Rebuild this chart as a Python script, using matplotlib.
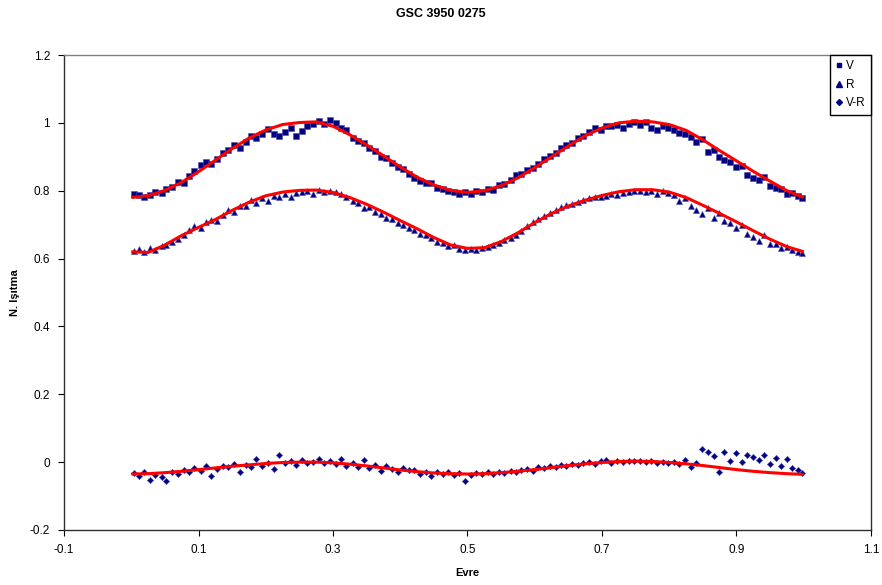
import matplotlib
matplotlib.use("Agg")
import matplotlib.pyplot as plt
import matplotlib.lines as mlines

plt.rcParams['font.family'] = ['Liberation Sans', 'DejaVu Sans']

# ---------------- data ----------------
phase = [0.004, 0.012, 0.019, 0.028, 0.036, 0.045, 0.052, 0.061, 0.069, 0.078,
         0.086, 0.094, 0.103, 0.111, 0.119, 0.128, 0.136, 0.144, 0.153, 0.161,
         0.170, 0.178, 0.186, 0.195, 0.203, 0.212, 0.220, 0.228, 0.237, 0.245,
         0.254, 0.262, 0.270, 0.279, 0.287, 0.295, 0.304, 0.312, 0.320, 0.329,
         0.337, 0.346, 0.354, 0.362, 0.371, 0.379, 0.387, 0.396, 0.404, 0.413,
         0.421, 0.429, 0.438, 0.446, 0.455, 0.463, 0.471, 0.480, 0.488, 0.497,
         0.505, 0.513, 0.522, 0.530, 0.538, 0.547, 0.555, 0.564, 0.572, 0.580,
         0.589, 0.597, 0.605, 0.614, 0.622, 0.631, 0.639, 0.647, 0.656, 0.664,
         0.672, 0.681, 0.689, 0.698, 0.706, 0.714, 0.723, 0.731, 0.740, 0.748,
         0.756, 0.765, 0.773, 0.782, 0.790, 0.798, 0.807, 0.815, 0.824, 0.832,
         0.840, 0.849, 0.857, 0.866, 0.874, 0.882, 0.891, 0.899, 0.908, 0.916,
         0.925, 0.933, 0.941, 0.950, 0.958, 0.966, 0.975, 0.983, 0.991, 0.998]

v_obs = [0.789, 0.787, 0.780, 0.786, 0.795, 0.793, 0.805, 0.812, 0.825, 0.822,
         0.842, 0.858, 0.875, 0.884, 0.880, 0.893, 0.912, 0.921, 0.935, 0.925,
         0.945, 0.962, 0.955, 0.967, 0.983, 0.968, 0.960, 0.972, 0.985, 0.962,
         0.975, 0.990, 0.998, 1.005, 0.996, 1.008, 0.999, 0.985, 0.978, 0.955,
         0.948, 0.940, 0.925, 0.918, 0.900, 0.895, 0.882, 0.870, 0.865, 0.848,
         0.838, 0.830, 0.822, 0.823, 0.808, 0.805, 0.798, 0.795, 0.790, 0.796,
         0.790, 0.800, 0.797, 0.805, 0.803, 0.818, 0.820, 0.832, 0.845, 0.850,
         0.862, 0.868, 0.880, 0.892, 0.902, 0.910, 0.925, 0.935, 0.940, 0.955,
         0.962, 0.972, 0.985, 0.980, 0.990, 0.992, 0.995, 0.985, 0.998, 1.003,
         0.995, 1.002, 0.985, 0.980, 0.992, 0.985, 0.978, 0.970, 0.968, 0.958,
         0.945, 0.952, 0.915, 0.920, 0.900, 0.890, 0.885, 0.870, 0.872, 0.845,
         0.838, 0.832, 0.840, 0.815, 0.808, 0.805, 0.790, 0.792, 0.785, 0.778]

r_obs = [0.622, 0.628, 0.618, 0.630, 0.624, 0.636, 0.640, 0.650, 0.657, 0.668,
         0.685, 0.695, 0.690, 0.708, 0.715, 0.712, 0.728, 0.742, 0.738, 0.755,
         0.755, 0.772, 0.765, 0.778, 0.770, 0.785, 0.780, 0.790, 0.782, 0.792,
         0.795, 0.800, 0.790, 0.802, 0.796, 0.799, 0.795, 0.790, 0.780, 0.770,
         0.765, 0.750, 0.752, 0.738, 0.730, 0.720, 0.718, 0.705, 0.698, 0.690,
         0.685, 0.672, 0.668, 0.660, 0.650, 0.645, 0.638, 0.640, 0.627, 0.625,
         0.628, 0.626, 0.630, 0.634, 0.640, 0.645, 0.655, 0.662, 0.670, 0.682,
         0.695, 0.708, 0.718, 0.725, 0.735, 0.742, 0.752, 0.758, 0.762, 0.768,
         0.772, 0.778, 0.780, 0.782, 0.785, 0.790, 0.788, 0.792, 0.795, 0.798,
         0.800, 0.795, 0.798, 0.790, 0.798, 0.794, 0.788, 0.770, 0.778, 0.755,
         0.742, 0.730, 0.748, 0.720, 0.735, 0.712, 0.705, 0.690, 0.700, 0.672,
         0.665, 0.652, 0.668, 0.643, 0.642, 0.630, 0.633, 0.625, 0.620, 0.615]

vr_obs = [-0.033, -0.040, -0.030, -0.052, -0.038, -0.045, -0.055, -0.028, -0.035, -0.022,
          -0.030, -0.018, -0.025, -0.012, -0.040, -0.020, -0.010, -0.015, -0.005, -0.028,
          -0.008, -0.015, 0.008, -0.010, -0.002, -0.020, 0.020, -0.003, 0.002, -0.008,
          0.005, -0.004, 0.000, 0.010, -0.002, 0.003, -0.006, 0.008, -0.012, -0.004,
          -0.015, 0.005, -0.018, -0.008, -0.025, -0.012, -0.020, -0.030, -0.018, -0.022,
          -0.024, -0.035, -0.028, -0.040, -0.030, -0.036, -0.028, -0.038, -0.033, -0.055,
          -0.037, -0.033, -0.036, -0.030, -0.035, -0.028, -0.032, -0.026, -0.030, -0.024,
          -0.020, -0.025, -0.015, -0.018, -0.010, -0.014, -0.008, -0.012, -0.005, -0.008,
          -0.003, 0.000, -0.006, 0.002, 0.005, -0.002, 0.003, 0.000, 0.002, 0.004,
          0.002, 0.000, 0.003, -0.002, 0.001, -0.003, -0.001, -0.005, 0.005, -0.015,
          -0.002, 0.040, 0.030, 0.018, -0.030, 0.030, 0.002, 0.028, 0.000, 0.020,
          0.015, 0.005, 0.020, -0.005, 0.012, -0.010, 0.008, -0.018, -0.022, -0.032]

fit_phase = [0.000, 0.025, 0.050, 0.075, 0.100, 0.125, 0.150, 0.175, 0.200, 0.225,
             0.250, 0.275, 0.300, 0.325, 0.350, 0.375, 0.400, 0.425, 0.450, 0.475,
             0.500, 0.525, 0.550, 0.575, 0.600, 0.625, 0.650, 0.675, 0.700, 0.725,
             0.750, 0.775, 0.800, 0.825, 0.850, 0.875, 0.900, 0.925, 0.950, 0.975,
             1.000]

v_fit = [0.780, 0.785, 0.801, 0.825, 0.856, 0.890, 0.924, 0.955, 0.979, 0.995,
         1.001, 1.003, 0.990, 0.965, 0.935, 0.903, 0.870, 0.840, 0.817, 0.801,
         0.795, 0.800, 0.815, 0.838, 0.868, 0.900, 0.932, 0.962, 0.985, 1.000,
         1.005, 1.003, 0.995, 0.978, 0.950, 0.918, 0.888, 0.857, 0.828, 0.800,
         0.780]

r_fit = [0.620, 0.618, 0.640, 0.668, 0.692, 0.715, 0.742, 0.766, 0.785, 0.796,
         0.801, 0.802, 0.795, 0.780, 0.760, 0.737, 0.712, 0.688, 0.662, 0.640,
         0.630, 0.632, 0.650, 0.676, 0.706, 0.733, 0.755, 0.772, 0.786, 0.797,
         0.803, 0.803, 0.796, 0.780, 0.757, 0.733, 0.708, 0.682, 0.657, 0.635,
         0.620]

vr_fit = [-0.035, -0.034, -0.031, -0.027, -0.022, -0.017, -0.012, -0.008, -0.004, -0.001,
          0.000, 0.000, -0.002, -0.006, -0.011, -0.017, -0.023, -0.028, -0.032, -0.034,
          -0.035, -0.034, -0.031, -0.027, -0.022, -0.016, -0.010, -0.005, -0.001, 0.002,
          0.003, 0.002, -0.001, -0.005, -0.010, -0.016, -0.022, -0.027, -0.031, -0.034,
          -0.036]

series_names = ['V', 'R', 'V-R']
x_ticks = [-0.1, 0.1, 0.3, 0.5, 0.7, 0.9, 1.1]
x_ticklabels = ['-0.1', '0.1', '0.3', '0.5', '0.7', '0.9', '1.1']
y_ticks = [-0.2, 0, 0.2, 0.4, 0.6, 0.8, 1, 1.2]
y_ticklabels = ['-0.2', '0', '0.2', '0.4', '0.6', '0.8', '1', '1.2']

# ---------------- figure ----------------
navy = '#000080'
fig = plt.figure(figsize=(8.82, 5.85), dpi=100)
ax = fig.add_axes([64 / 882, 55 / 585, (871 - 64) / 882, (530 - 55) / 585])

ax.plot(phase, v_obs, linestyle='none', marker='s', markersize=4.2,
        color=navy, markeredgewidth=0.4, markeredgecolor='#4a4ab0', zorder=3)
ax.plot(phase, r_obs, linestyle='none', marker='^', markersize=4.6,
        color=navy, markeredgewidth=0.4, markeredgecolor='#4a4ab0', zorder=3)
ax.plot(phase, vr_obs, linestyle='none', marker='D', markersize=3.2,
        color=navy, markeredgewidth=0.4, markeredgecolor='#4a4ab0', zorder=3)

for fit in (v_fit, r_fit, vr_fit):
    ax.plot(fit_phase, fit, color='#ff0000', linewidth=2.2, zorder=4,
            solid_capstyle='butt')

ax.set_xlim(-0.1, 1.1)
ax.set_ylim(-0.2, 1.2)
ax.set_xticks(x_ticks)
ax.set_xticklabels(x_ticklabels)
ax.set_yticks(y_ticks)
ax.set_yticklabels(y_ticklabels)
ax.tick_params(axis='both', direction='out', length=4, width=0.8,
               labelsize=8.5, colors='#000000', pad=6)

for side in ['left', 'bottom', 'right']:
    ax.spines[side].set_color('#303030')
    ax.spines[side].set_linewidth(1.0)
ax.spines['top'].set_color('#808080')
ax.spines['top'].set_linewidth(1.0)

ax.set_xlabel('Evre', fontsize=8, fontweight='bold', labelpad=9)
ax.set_ylabel('N. Işıtma', fontsize=8, fontweight='bold', labelpad=7)
fig.text(0.5, 1 - 14 / 585, 'GSC 3950 0275', ha='center', va='center',
         fontsize=9, fontweight='bold')

handles = [
    mlines.Line2D([], [], linestyle='none', marker='s', markersize=3.5, color=navy),
    mlines.Line2D([], [], linestyle='none', marker='^', markersize=4, color=navy),
    mlines.Line2D([], [], linestyle='none', marker='D', markersize=3, color=navy),
]
leg = ax.legend(handles, series_names, loc='upper right', borderaxespad=0,
                fontsize=8.5, frameon=True, fancybox=False, handlelength=0.6,
                handletextpad=0.3, labelspacing=0.55, borderpad=0.45,
                framealpha=1)
leg.get_frame().set_edgecolor('#000000')
leg.get_frame().set_linewidth(1.0)

fig.savefig('out.png', dpi=100)
